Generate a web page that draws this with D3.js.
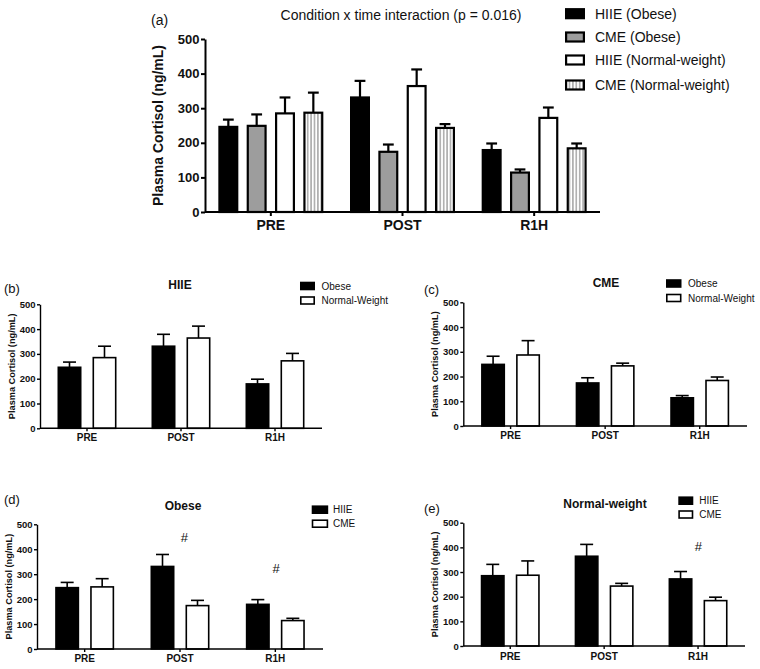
<!DOCTYPE html>
<html>
<head>
<meta charset="utf-8">
<script src="https://cdn.jsdelivr.net/npm/d3@7"></script>
<style>
  html, body { margin: 0; padding: 0; background: #fff; }
  svg { display: block; font-family: "Liberation Sans", Arial, Helvetica, sans-serif; }
</style>
</head>
<body>
<svg id="chart" width="760" height="669"></svg>
<script>
// ---------------- data ----------------
const categories = ["PRE", "POST", "R1H"];
const yTicks = [0, 100, 200, 300, 400, 500];

const hiieObese = [246, 331, 179];
const hiieObeseSem = [21, 48, 19];
const cmeObese = [249, 174, 114];
const cmeObeseSem = [33, 21, 9];
const hiieNormal = [285, 364, 272];
const hiieNormalSem = [46, 48, 30];
const cmeNormal = [287, 243, 184];
const cmeNormalSem = [58, 11, 14];

const mainLegend = ["HIIE (Obese)", "CME (Obese)", "HIIE (Normal-weight)", "CME (Normal-weight)"];
const mainTitle = "Condition x time interaction (p = 0.016)";
const yLabel = "Plasma Cortisol (ng/mL)";

// ---------------- drawing ----------------
const svg = d3.select("#chart");
const defs = svg.append("defs");
const pat = defs.append("pattern").attr("id", "vstripes")
  .attr("patternUnits", "userSpaceOnUse").attr("width", 3.4).attr("height", 10);
pat.append("rect").attr("width", 3.4).attr("height", 10).attr("fill", "#fff");
pat.append("line").attr("x1", 1.7).attr("x2", 1.7).attr("y1", 0).attr("y2", 10)
  .attr("stroke", "#6a6a6a").attr("stroke-width", 0.9);

const FILL = { black: "#000", gray: "#9d9d9d", white: "#fff", stripe: "url(#vstripes)" };

function drawPanel(cfg) {
  const g = svg.append("g");
  const y = d3.scaleLinear().domain([0, 500]).range([cfg.y0, cfg.y500]);
  const x = d3.scaleBand().domain(categories).range([cfg.x0, cfg.x1]).padding(0);
  const sx = d3.scaleBand().domain(cfg.series.map((s, i) => i))
    .range([-cfg.groupW / 2, cfg.groupW / 2]).paddingInner(cfg.pad).paddingOuter(0);
  const bw = sx.bandwidth();

  // bars + error bars
  cfg.series.forEach((s, si) => {
    const sg = g.append("g");
    const data = categories.map((c, i) => ({ c, v: s.values[i], e: s.sem[i] }));
    sg.selectAll("line.err").data(data).join("line")
      .attr("x1", d => x(d.c) + x.bandwidth() / 2 + sx(si) + bw / 2)
      .attr("x2", d => x(d.c) + x.bandwidth() / 2 + sx(si) + bw / 2)
      .attr("y1", d => y(d.v)).attr("y2", d => y(d.v + d.e))
      .attr("stroke", "#000").attr("stroke-width", cfg.sw);
    sg.selectAll("line.cap").data(data).join("line")
      .attr("x1", d => x(d.c) + x.bandwidth() / 2 + sx(si) + bw / 2 - bw * 0.27)
      .attr("x2", d => x(d.c) + x.bandwidth() / 2 + sx(si) + bw / 2 + bw * 0.27)
      .attr("y1", d => y(d.v + d.e)).attr("y2", d => y(d.v + d.e))
      .attr("stroke", "#000").attr("stroke-width", cfg.sw);
    sg.selectAll("rect").data(data).join("rect")
      .attr("x", d => x(d.c) + x.bandwidth() / 2 + sx(si) + cfg.sw / 2)
      .attr("width", bw - cfg.sw)
      .attr("y", d => y(d.v))
      .attr("height", d => y(0) - y(d.v))
      .attr("fill", FILL[s.fill]).attr("stroke", "#000").attr("stroke-width", cfg.sw);
  });

  // y axis
  const ya = g.append("g").attr("transform", `translate(${cfg.x0},0)`)
    .call(d3.axisLeft(y).tickValues(yTicks).tickFormat(d3.format("d"))
      .tickSize(cfg.tick).tickSizeOuter(0).tickPadding(1.5));
  ya.select(".domain").attr("stroke-width", cfg.aw);
  ya.selectAll(".tick line").attr("stroke-width", cfg.aw);
  ya.selectAll("text").attr("font-size", cfg.tickFont).attr("font-weight", "bold")
    .attr("font-family", "Liberation Sans, Arial, sans-serif").attr("fill", "#111");

  // x axis
  g.append("line").attr("x1", cfg.x0).attr("x2", cfg.x1)
    .attr("y1", y(0)).attr("y2", y(0)).attr("stroke", "#000").attr("stroke-width", cfg.aw);
  g.selectAll("line.xt").data(categories).join("line")
    .attr("x1", d => x(d) + x.bandwidth() / 2).attr("x2", d => x(d) + x.bandwidth() / 2)
    .attr("y1", y(0)).attr("y2", y(0) + cfg.tick).attr("stroke", "#000").attr("stroke-width", cfg.aw);
  g.selectAll("text.xl").data(categories).join("text")
    .attr("x", d => x(d) + x.bandwidth() / 2).attr("y", cfg.catY)
    .attr("text-anchor", "middle").attr("font-size", cfg.catFont).attr("font-weight", "bold")
    .attr("fill", "#111").text(d => d);

  // y label
  g.append("text")
    .attr("transform", `translate(${cfg.ylabX},${(cfg.y0 + cfg.y500) / 2}) rotate(-90)`)
    .attr("text-anchor", "middle").attr("font-size", cfg.ylabFont).attr("font-weight", "bold")
    .attr("fill", "#111").text(yLabel);

  // panel letter
  g.append("text").attr("x", cfg.letter[0]).attr("y", cfg.letter[1])
    .attr("font-size", cfg.letterFont).attr("fill", "#111").text(cfg.letterText);

  // title
  g.append("text").attr("x", cfg.title[0]).attr("y", cfg.title[1]).attr("text-anchor", "middle")
    .attr("font-size", cfg.titleFont).attr("font-weight", cfg.titleWeight).attr("fill", "#111")
    .text(cfg.titleText);

  // legend
  cfg.series.forEach((s, si) => {
    const cy = cfg.legend.rows[si];
    g.append("rect").attr("x", cfg.legend.x + cfg.sw / 2).attr("y", cy - cfg.legend.h / 2)
      .attr("width", cfg.legend.w - cfg.sw).attr("height", cfg.legend.h)
      .attr("fill", FILL[s.fill]).attr("stroke", "#000").attr("stroke-width", cfg.sw);
    g.append("text").attr("x", cfg.legend.tx).attr("y", cy + cfg.legend.font * 0.36)
      .attr("font-size", cfg.legend.font).attr("fill", "#111").text(s.name);
  });

  // significance marks
  (cfg.marks || []).forEach(m => {
    g.append("text").attr("x", m[0]).attr("y", m[1]).attr("text-anchor", "middle")
      .attr("font-size", 13).attr("fill", "#111").text("#");
  });
}

const S = {
  ho: { values: hiieObese, sem: hiieObeseSem },
  co: { values: cmeObese, sem: cmeObeseSem },
  hn: { values: hiieNormal, sem: hiieNormalSem },
  cn: { values: cmeNormal, sem: cmeNormalSem }
};

// panel (a)
drawPanel({
  x0: 205, x1: 600, y0: 212, y500: 39, groupW: 105, pad: 0.294, sw: 2.2, aw: 2, tick: 4,
  tickFont: 13, catFont: 14, catY: 230, ylabX: 163, ylabFont: 14,
  letter: [151, 25], letterFont: 14, letterText: "(a)",
  title: [401, 20], titleFont: 14, titleWeight: "normal", titleText: mainTitle,
  legend: { x: 565, w: 20, h: 9, tx: 595, font: 14, rows: [13.7, 37, 60, 85] },
  series: [
    Object.assign({ name: mainLegend[0], fill: "black" }, S.ho),
    Object.assign({ name: mainLegend[1], fill: "gray" }, S.co),
    Object.assign({ name: mainLegend[2], fill: "white" }, S.hn),
    Object.assign({ name: mainLegend[3], fill: "stripe" }, S.cn)
  ]
});

function small(extra) {
  return Object.assign({ groupW: 59, pad: 0.314, sw: 1.6, aw: 1.4, tick: 3,
    tickFont: 9.5, catFont: 10, ylabFont: 9.2, letterFont: 13, titleFont: 12, titleWeight: "bold" }, extra);
}

// panel (b)
drawPanel(small({
  x0: 40, x1: 322, y0: 428.3, y500: 304.3, catY: 441, ylabX: 15,
  letter: [4, 293], letterText: "(b)", title: [180, 289], titleText: "HIIE",
  legend: { x: 300, w: 15, h: 7, tx: 321.5, font: 10, rows: [286, 300.5] },
  series: [
    Object.assign({ name: "Obese", fill: "black" }, S.ho),
    Object.assign({ name: "Normal-Weight", fill: "white" }, S.hn)
  ]
}));

// panel (c)
drawPanel(small({
  x0: 463.3, x1: 747, y0: 426, y500: 302.3, catY: 439, ylabX: 438,
  letter: [424, 294], letterText: "(c)", title: [606, 287], titleText: "CME",
  legend: { x: 666, w: 15.5, h: 7, tx: 688, font: 10, rows: [283.5, 298] },
  series: [
    Object.assign({ name: "Obese", fill: "black" }, S.co),
    Object.assign({ name: "Normal-Weight", fill: "white" }, S.cn)
  ]
}));

// panel (d)
drawPanel(small({
  x0: 37, x1: 323, y0: 649, y500: 524.3, catY: 662, ylabX: 12,
  letter: [4, 504], letterText: "(d)", title: [183, 510], titleText: "Obese",
  legend: { x: 311.7, w: 16.5, h: 7, tx: 333, font: 10, rows: [509.7, 523.7] },
  series: [
    Object.assign({ name: "HIIE", fill: "black" }, S.ho),
    Object.assign({ name: "CME", fill: "white" }, S.co)
  ],
  marks: [[184.3, 542], [276, 573]]
}));

// panel (e)
drawPanel(small({
  x0: 463.3, x1: 745, y0: 646, y500: 522.7, catY: 659.5, ylabX: 438,
  letter: [424, 512.5], letterText: "(e)", title: [605, 508], titleText: "Normal-weight",
  legend: { x: 678.3, w: 15, h: 7, tx: 699.3, font: 10, rows: [500.7, 514.5] },
  series: [
    Object.assign({ name: "HIIE", fill: "black" }, S.hn),
    Object.assign({ name: "CME", fill: "white" }, S.cn)
  ],
  marks: [[698.3, 550.5]]
}));
</script>
</body>
</html>
